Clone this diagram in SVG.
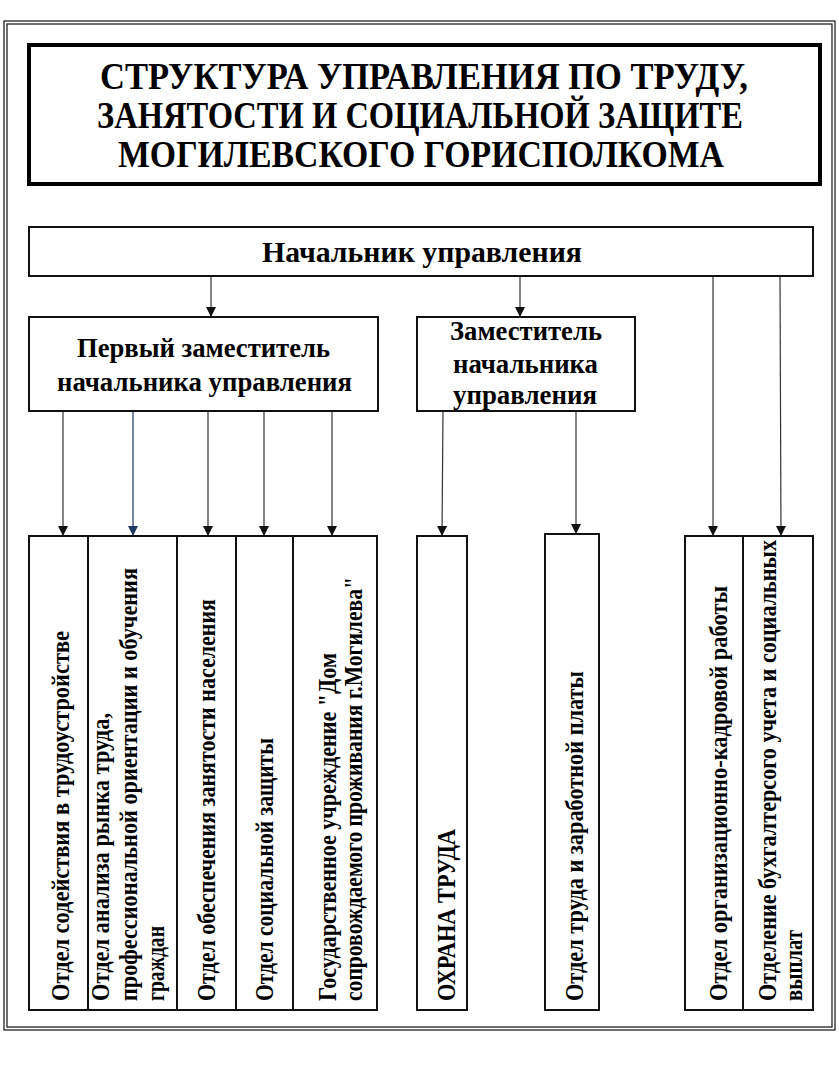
<svg xmlns="http://www.w3.org/2000/svg" width="839" height="1079" viewBox="0 0 839 1079">
<style>
  .frame { fill: none; stroke: #222; stroke-width: 1.3; }
  .box { fill: #fff; stroke: #111; stroke-width: 2; }
  .title { fill: #fff; stroke: #000; stroke-width: 4; }
  .t { font-family: "Liberation Serif", "Times New Roman", serif; font-weight: bold; fill: #000; }
  .v { font-size: 26px; }
  .c { stroke: #333; stroke-width: 1.2; fill: none; }
</style>
<defs>
  <marker id="ah" viewBox="0 0 10 10" refX="10" refY="5" markerWidth="10" markerHeight="10" markerUnits="userSpaceOnUse" orient="auto">
    <path d="M0,0 L10,5 L0,10 z" fill="#111"/>
  </marker>
  <marker id="ahb" viewBox="0 0 10 10" refX="10" refY="5" markerWidth="10" markerHeight="10" markerUnits="userSpaceOnUse" orient="auto">
    <path d="M0,0 L10,5 L0,10 z" fill="#1f3864"/>
  </marker>
</defs>
<rect width="839" height="1079" fill="#fff"/>
<rect class="frame" x="4" y="21" width="831" height="1009"/>
<rect class="frame" x="7" y="24" width="825" height="1003"/>

<g id="title">
  <rect class="title" x="29" y="45" width="791" height="139"/>
  <text class="t" font-size="37" text-anchor="middle" x="424" y="89" textLength="648" lengthAdjust="spacingAndGlyphs">СТРУКТУРА УПРАВЛЕНИЯ ПО ТРУДУ,</text>
  <text class="t" font-size="37" text-anchor="middle" x="420" y="128" textLength="646" lengthAdjust="spacingAndGlyphs">ЗАНЯТОСТИ И СОЦИАЛЬНОЙ ЗАЩИТЕ</text>
  <text class="t" font-size="37" text-anchor="middle" x="421" y="167" textLength="606" lengthAdjust="spacingAndGlyphs">МОГИЛЕВСКОГО ГОРИСПОЛКОМА</text>
</g>

<g id="connectors">
  <line class="c" x1="211" y1="276" x2="211" y2="317" marker-end="url(#ah)"/>
  <line class="c" x1="520" y1="276" x2="520" y2="317" marker-end="url(#ah)"/>
  <line class="c" x1="713" y1="276" x2="713" y2="536" marker-end="url(#ah)"/>
  <line class="c" x1="780" y1="276" x2="781" y2="536" marker-end="url(#ah)"/>
  <line class="c" x1="63" y1="411" x2="63" y2="536" marker-end="url(#ah)"/>
  <line class="c" x1="133" y1="411" x2="133" y2="536" style="stroke:#1f3864" marker-end="url(#ahb)"/>
  <line class="c" x1="208" y1="411" x2="208" y2="536" marker-end="url(#ah)"/>
  <line class="c" x1="264" y1="411" x2="264" y2="536" marker-end="url(#ah)"/>
  <line class="c" x1="332" y1="411" x2="332" y2="536" marker-end="url(#ah)"/>
  <line class="c" x1="443" y1="411" x2="442" y2="536" marker-end="url(#ah)"/>
  <line class="c" x1="576" y1="411" x2="576" y2="534" marker-end="url(#ah)"/>
</g>

<g id="head">
  <rect class="box" x="29" y="227" width="784" height="49"/>
  <text class="t" font-size="29" x="262" y="262" textLength="320" lengthAdjust="spacingAndGlyphs">Начальник управления</text>
</g>

<g id="deputy1">
  <rect class="box" x="29" y="317" width="349" height="94"/>
  <text class="t" font-size="28" x="77" y="357" textLength="253" lengthAdjust="spacingAndGlyphs">Первый заместитель</text>
  <text class="t" font-size="28" x="57" y="391" textLength="295" lengthAdjust="spacingAndGlyphs">начальника управления</text>
</g>

<g id="deputy2">
  <rect class="box" x="417" y="317" width="218" height="94"/>
  <text class="t" font-size="27" x="450" y="340" textLength="152" lengthAdjust="spacingAndGlyphs">Заместитель</text>
  <text class="t" font-size="27" x="453" y="373" textLength="145" lengthAdjust="spacingAndGlyphs">начальника</text>
  <text class="t" font-size="27" x="453" y="404" textLength="144" lengthAdjust="spacingAndGlyphs">управления</text>
</g>

<g id="dept1">
  <rect class="box" x="29" y="536" width="59" height="474"/>
  <text class="t v" transform="translate(69,1001) rotate(-90)" textLength="370" lengthAdjust="spacingAndGlyphs">Отдел содействия в трудоустройстве</text>
</g>
<g id="dept2">
  <rect class="box" x="88" y="536" width="89" height="474"/>
  <text class="t v" transform="translate(109,1001) rotate(-90)" textLength="288" lengthAdjust="spacingAndGlyphs">Отдел анализа рынка труда,</text>
  <text class="t v" transform="translate(137,1001) rotate(-90)" textLength="433" lengthAdjust="spacingAndGlyphs">профессиональной ориентации и обучения</text>
  <text class="t v" transform="translate(164,1001) rotate(-90)" textLength="75" lengthAdjust="spacingAndGlyphs">граждан</text>
</g>
<g id="dept3">
  <rect class="box" x="177" y="536" width="59" height="474"/>
  <text class="t v" transform="translate(215,1001) rotate(-90)" textLength="402" lengthAdjust="spacingAndGlyphs">Отдел обеспечения занятости населения</text>
</g>
<g id="dept4">
  <rect class="box" x="236" y="536" width="57" height="474"/>
  <text class="t v" transform="translate(273,1001) rotate(-90)" textLength="263" lengthAdjust="spacingAndGlyphs">Отдел социальной защиты</text>
</g>
<g id="dept5">
  <rect class="box" x="293" y="536" width="84" height="474"/>
  <text class="t v" transform="translate(336,1001) rotate(-90)" textLength="348" lengthAdjust="spacingAndGlyphs">Государственное учреждение "Дом</text>
  <text class="t v" transform="translate(362,1001) rotate(-90)" textLength="424" lengthAdjust="spacingAndGlyphs">сопровождаемого проживания г.Могилева"</text>
</g>
<g id="dept6">
  <rect class="box" x="417" y="536" width="50" height="474"/>
  <text class="t v" transform="translate(455,1001) rotate(-90)" textLength="172" lengthAdjust="spacingAndGlyphs">ОХРАНА ТРУДА</text>
</g>
<g id="dept7">
  <rect class="box" x="545" y="534" width="54" height="476"/>
  <text class="t v" transform="translate(583,1001) rotate(-90)" textLength="330" lengthAdjust="spacingAndGlyphs">Отдел труда и заработной платы</text>
</g>
<g id="dept8">
  <rect class="box" x="685" y="536" width="58" height="474"/>
  <text class="t v" transform="translate(727,1001) rotate(-90)" textLength="415" lengthAdjust="spacingAndGlyphs">Отдел организационно-кадровой работы</text>
</g>
<g id="dept9">
  <rect class="box" x="743" y="536" width="70" height="474"/>
  <text class="t v" transform="translate(776,1001) rotate(-90)" textLength="461" lengthAdjust="spacingAndGlyphs">Отделение бухгалтерсого учета и социальных</text>
  <text class="t v" transform="translate(802,1001) rotate(-90)" textLength="71" lengthAdjust="spacingAndGlyphs">выплат</text>
</g>
</svg>
